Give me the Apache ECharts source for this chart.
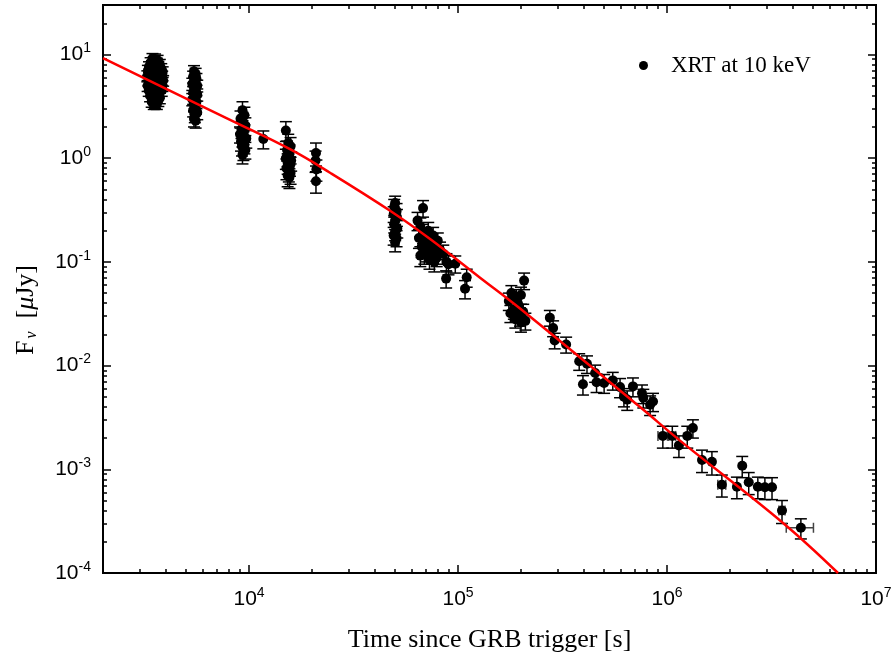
<!DOCTYPE html>
<html><head><meta charset="utf-8">
<script src="https://cdn.jsdelivr.net/npm/echarts@6/dist/echarts.min.js"></script>
<style>html,body{margin:0;padding:0;background:#fff}#c{width:896px;height:664px}</style>
</head><body><div id="c"></div>
<script>
// [time (s), flux (uJy), flux error, time error]
const epoch1 = [[3450,9.1,1.1],[3550,9.0,1.1],[3650,8.8,1.0],[3380,8.3,1.0],[3500,8.5,1.0],[3620,8.2,1.0],[3740,8.0,0.95],[3320,7.6,0.9],[3430,7.8,0.9],[3560,7.5,0.9],[3680,7.7,0.9],[3800,7.3,0.85],[3280,7.0,0.85],[3400,6.8,0.8],[3520,7.1,0.85],[3640,6.9,0.8],[3760,6.6,0.8],[3860,6.8,0.8],[3260,6.2,0.75],[3370,6.4,0.75],[3490,6.1,0.7],[3600,6.3,0.75],[3720,6.0,0.7],[3840,6.2,0.7],[3300,5.6,0.65],[3420,5.8,0.7],[3540,5.5,0.65],[3660,5.7,0.65],[3780,5.4,0.65],[3880,5.6,0.65],[3270,5.0,0.6],[3390,5.2,0.6],[3510,4.9,0.6],[3630,5.1,0.6],[3750,4.8,0.55],[3850,5.0,0.6],[3310,4.5,0.55],[3440,4.4,0.5],[3570,4.6,0.55],[3700,4.3,0.5],[3820,4.5,0.55],[3360,4.0,0.5],[3480,3.9,0.45],[3610,4.1,0.5],[3740,3.8,0.45],[3420,3.5,0.4],[3550,3.4,0.4],[3680,3.6,0.45],[3500,3.3,0.35],[3620,3.3,0.35]];
const epoch2 = [[5450,6.9,0.9],[5550,6.5,0.85],[5400,6.1,0.8],[5600,5.8,0.75],[5500,5.5,0.7],[5350,5.2,0.7],[5650,5.0,0.65],[5450,4.8,0.65],[5550,4.5,0.6],[5400,4.3,0.6],[5650,4.1,0.55],[5500,3.9,0.55],[5350,3.7,0.5],[5600,3.5,0.5],[5450,3.3,0.45],[5550,3.1,0.45],[5400,2.9,0.4],[5650,2.75,0.4],[5500,2.6,0.4],[5450,2.4,0.4],[5550,2.3,0.35]];
const epoch3 = [[9300,2.9,0.6],[9500,2.6,0.5],[9100,2.4,0.45],[9400,2.2,0.4],[9600,2.05,0.4],[9200,1.9,0.35],[9450,1.8,0.35],[9050,1.7,0.3],[9350,1.6,0.3],[9700,1.55,0.3],[9150,1.45,0.28],[9500,1.35,0.25],[9250,1.3,0.25],[9600,1.2,0.22],[9400,1.15,0.2],[9300,1.08,0.2],[11700,1.53,0.3]];
const epoch4 = [[15000,1.85,0.4],[15400,1.4,0.3],[15800,1.3,0.28],[15200,1.2,0.26],[15600,1.1,0.24],[15000,1.0,0.22],[15900,0.95,0.2],[15300,0.9,0.2],[15700,0.85,0.18],[15100,0.8,0.18],[15500,0.75,0.16],[15800,0.72,0.16],[15300,0.68,0.15],[15600,0.65,0.14],[20900,1.12,0.28],[20800,0.95,0.22],[21000,0.78,0.18],[20900,0.6,0.14]];
const epoch5 = [[50000,0.37,0.06],[49500,0.34,0.06],[50800,0.31,0.055],[49200,0.29,0.05],[51000,0.27,0.05],[50000,0.25,0.045],[49500,0.23,0.04],[51200,0.21,0.04],[50000,0.195,0.035],[49200,0.18,0.035],[50800,0.17,0.03],[50000,0.155,0.03]];
const epoch6 = [[68000,0.33,0.06],[64000,0.25,0.05],[66000,0.22,0.045],[68000,0.19,0.04],[65000,0.17,0.035],[70000,0.16,0.035],[72000,0.2,0.04],[67000,0.14,0.03],[74000,0.15,0.03],[76000,0.18,0.035],[71000,0.13,0.03],[78000,0.14,0.03],[80000,0.16,0.03],[69000,0.12,0.025],[75000,0.12,0.025],[82000,0.13,0.025],[85000,0.12,0.025],[73000,0.105,0.02],[79000,0.11,0.02],[88000,0.1,0.02],[90000,0.095,0.02],[66000,0.115,0.025],[77000,0.1,0.02],[87700,0.069,0.013],[97000,0.096,0.018],[110000,0.071,0.014],[108000,0.055,0.011]];
const epoch7 = [[207000,0.066,0.012],[180000,0.05,0.009],[190000,0.045,0.009],[200000,0.048,0.009],[175000,0.042,0.008],[195000,0.038,0.007],[185000,0.035,0.007],[205000,0.033,0.006],[178000,0.032,0.006],[198000,0.03,0.006],[188000,0.028,0.005],[210000,0.027,0.005],[200000,0.026,0.005],[193000,0.04,0.008]];
const lateTail = [[275000,0.029,0.005],[285000,0.023,0.004],[290000,0.0175,0.003],[329000,0.016,0.0028],[380000,0.011,0.002],[414000,0.0104,0.002],[396000,0.0066,0.0014],[453000,0.0085,0.0016],[460000,0.0069,0.0014],[500000,0.0068,0.0014],[550000,0.0072,0.0014],[596000,0.0062,0.0013],[622000,0.005,0.001],[687000,0.0063,0.0013],[645000,0.0047,0.001],[759000,0.0054,0.0011],[770000,0.0049,0.001],[830000,0.0042,0.0009],[857000,0.0045,0.0009],[955000,0.0021,0.0005,50000],[1060000,0.0021,0.0005,40000],[1140000,0.0017,0.0004],[1250000,0.0021,0.0005],[1330000,0.0025,0.0005],[1470000,0.00123,0.0003],[1640000,0.00118,0.0003],[1830000,0.00071,0.00017,80000],[2160000,0.00068,0.00016],[2290000,0.00108,0.00025],[2460000,0.00075,0.00018],[2720000,0.00068,0.00016],[2940000,0.00067,0.00016],[3180000,0.00067,0.00016],[3550000,0.0004,0.0001,120000],[4370000,0.000273,0.00006,650000]];
// red model curve
const modelTime = [2000, 8110, 15700, 24400, 47300, 73500, 127000, 198000, 743000, 1150000, 3590000, 6580000];
const modelFlux = [9.2, 2.34, 1.22, 0.724, 0.311, 0.166, 0.0708, 0.0355, 0.00398, 0.0019, 0.000304, 0.0001];
const xMajorTicks = [1e4, 1e5, 1e6, 1e7];
const yMajorTicks = [1e-4, 1e-3, 1e-2, 1e-1, 1, 10];
const seriesName = 'XRT at 10 keV';

const allPoints = [].concat(epoch1, epoch2, epoch3, epoch4, epoch5, epoch6, epoch7, lateTail);
const X_MIN = 2000, X_MAX = 1e7, Y_MIN = 1e-4, Y_MAX = 30;

function minorList(lo, hi, d0, d1) {
  const out = [];
  for (let d = d0; d <= d1; d++) for (let m = 2; m <= 9; m++) {
    const v = m * Math.pow(10, d);
    if (v > lo * 1.0001 && v < hi * 0.9999) out.push(v);
  }
  return out;
}
const xMinor = minorList(X_MIN, X_MAX, 3, 6);
const yMinor = minorList(Y_MIN, Y_MAX, -4, 1);

const lineStyle = { color: '#000', width: 2 };
const labelRich = {
  b: { fontSize: 21, fontFamily: 'Liberation Sans, Arial, sans-serif', color: '#000' },
  sup: { fontSize: 14, fontFamily: 'Liberation Sans, Arial, sans-serif', color: '#000', padding: [0, 0, 12, 0] }
};
function fmt(v) {
  const e = Math.round(Math.log10(v));
  return '{b|10}{sup|' + e + '}';
}
function mkAxis(kind, pos, major, min, max, ticks, withLabels, withName) {
  const a = {
    type: 'log', logBase: 10, min: min, max: max, position: pos,
    axisLine: { show: true, onZero: false, lineStyle: lineStyle },
    axisTick: { show: true, inside: true, length: major ? 8 : 4, customValues: ticks, lineStyle: { color: '#000', width: 1.5 } },
    axisLabel: withLabels ? { show: true, customValues: ticks, formatter: fmt, rich: labelRich, margin: kind === 'x' ? 13 : 12 } : { show: false },
    splitLine: { show: false }, minorTick: { show: false }
  };
  if (withName) {
    a.name = 'Time since GRB trigger [s]';
    a.nameLocation = 'middle';
    a.nameGap = 54;
    a.nameTextStyle = { fontFamily: 'Liberation Serif, Times New Roman, serif', fontSize: 26, color: '#000' };
  }
  return a;
}

const chart = echarts.init(document.getElementById('c'), null, { renderer: 'canvas' });
chart.setOption({
  animation: false,
  backgroundColor: '#fff',
  grid: { left: 103, right: 20, top: 5, bottom: 91, outerBoundsMode: 'none' },
  xAxis: [
    mkAxis('x', 'bottom', true, X_MIN, X_MAX, xMajorTicks, true, true),
    mkAxis('x', 'bottom', false, X_MIN, X_MAX, xMinor, false, false),
    mkAxis('x', 'top', true, X_MIN, X_MAX, xMajorTicks, false, false),
    mkAxis('x', 'top', false, X_MIN, X_MAX, xMinor, false, false)
  ],
  yAxis: [
    mkAxis('y', 'left', true, Y_MIN, Y_MAX, yMajorTicks, true, false),
    mkAxis('y', 'left', false, Y_MIN, Y_MAX, yMinor, false, false),
    mkAxis('y', 'right', true, Y_MIN, Y_MAX, yMajorTicks, false, false),
    mkAxis('y', 'right', false, Y_MIN, Y_MAX, yMinor, false, false)
  ],
  legend: {
    data: [{ name: seriesName, icon: 'circle', itemStyle: { color: '#000', opacity: 1 } }],
    left: 634, top: 49, itemWidth: 9, itemHeight: 9,
    textStyle: { fontFamily: 'Liberation Serif, Times New Roman, serif', fontSize: 23, color: '#000', padding: [0, 0, 0, 18] }
  },
  graphic: [{
    type: 'text', x: 26, y: 310, rotation: Math.PI / 2,
    style: {
      text: '{n|F}{sub|ν}{n|  [}{it|μ}{n|Jy]}',
      align: 'center', verticalAlign: 'middle',
      rich: {
        n: { fontFamily: 'Liberation Serif, Times New Roman, serif', fontSize: 26, fill: '#000', color: '#000' },
        sub: { fontFamily: 'Liberation Serif, Times New Roman, serif', fontSize: 16, fontStyle: 'italic', fill: '#000', color: '#000', padding: [12, 0, 0, 2] },
        it: { fontFamily: 'Liberation Serif, Times New Roman, serif', fontSize: 26, fontStyle: 'italic', fill: '#000', color: '#000' }
      }
    }
  }],
  series: [
    {
      type: 'custom', xAxisIndex: 0, yAxisIndex: 0, clip: true, silent: true,
      data: allPoints.map(p => [p[0], p[1], p[2], p[3] || 0]),
      encode: { x: 0, y: 1 },
      renderItem: function (params, api) {
        const t = api.value(0), f = api.value(1), df = api.value(2), dt = api.value(3);
        const top = api.coord([t, f + df]);
        const bot = api.coord([t, Math.max(f - df, 1e-6)]);
        const st = { stroke: '#000', lineWidth: 1.5 };
        const cw = 6;
        const ch = [
          { type: 'line', shape: { x1: top[0], y1: top[1], x2: bot[0], y2: bot[1] }, style: st },
          { type: 'line', shape: { x1: top[0] - cw, y1: top[1], x2: top[0] + cw, y2: top[1] }, style: st },
          { type: 'line', shape: { x1: bot[0] - cw, y1: bot[1], x2: bot[0] + cw, y2: bot[1] }, style: st }
        ];
        if (dt > 0) {
          const l = api.coord([t - dt, f]), r = api.coord([t + dt, f]);
          const hs = { stroke: '#444', lineWidth: 1.5 };
          ch.push({ type: 'line', shape: { x1: l[0], y1: l[1], x2: r[0], y2: r[1] }, style: hs });
          ch.push({ type: 'line', shape: { x1: l[0], y1: l[1] - 5, x2: l[0], y2: l[1] + 5 }, style: hs });
          ch.push({ type: 'line', shape: { x1: r[0], y1: r[1] - 5, x2: r[0], y2: r[1] + 5 }, style: hs });
        }
        return { type: 'group', children: ch };
      },
      z: 2
    },
    {
      name: seriesName, type: 'scatter', xAxisIndex: 0, yAxisIndex: 0,
      data: allPoints.map(p => [p[0], p[1]]),
      symbol: 'circle', symbolSize: 10, itemStyle: { color: '#000', opacity: 1 }, z: 3
    },
    {
      type: 'line', xAxisIndex: 0, yAxisIndex: 0,
      data: modelTime.map((t, i) => [t, modelFlux[i]]),
      smooth: 0.4, showSymbol: false, clip: true,
      lineStyle: { color: '#ff0000', width: 2.5 }, z: 4
    }
  ]
});
</script>
</body></html>
